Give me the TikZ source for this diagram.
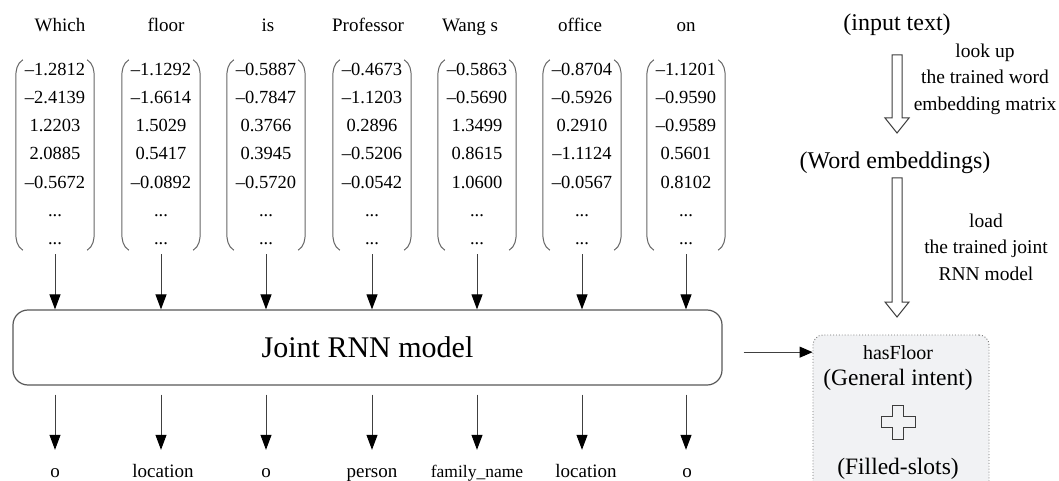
\documentclass[tikz,border=0pt]{standalone}
\usepackage{fontspec}
\setmainfont{Liberation Serif}
\usetikzlibrary{arrows.meta,calc}
\definecolor{resfill}{RGB}{241,242,244}
\definecolor{inkgray}{RGB}{60,60,60}
\newcommand\blockarr[3]{%
  \draw[blk] (#1-5,#2) -- (#1+5,#2) -- (#1+5,#3-15) -- (#1+12,#3-15) -- (#1,#3)
    -- (#1-12,#3-15) -- (#1-5,#3-15) -- cycle;}
\begin{document}
\begin{tikzpicture}[x=1pt,y=-1pt,
  word/.style={font=\fontsize{19}{19}\selectfont, anchor=base, inner sep=0pt},
  num/.style={font=\fontsize{18.5}{18.5}\selectfont, anchor=base, inner sep=0pt},
  vecbox/.style={minimum width=78pt, minimum height=190pt, inner sep=0pt},
  paren/.style={draw=black!60, line width=1pt},
  arr/.style={draw=black!75, line width=1pt, -{Triangle[width=11pt,length=15pt,fill=black,color=black]}},
  sidearr/.style={draw=black!75, line width=1pt, -{Triangle[width=11pt,length=13pt,fill=black,color=black]}},
  blk/.style={draw=inkgray, line width=1pt, line join=miter},
  note/.style={font=\fontsize{19.5}{26.5}\selectfont, align=center, anchor=north, inner sep=0pt},
  stage/.style={font=\fontsize{24}{24}\selectfont, anchor=base, inner sep=0pt},
  restext/.style={font=\fontsize{23.5}{23.5}\selectfont, anchor=base, inner sep=0pt}]
\clip (0,0) rectangle (1059,481);
\fill[white] (0,0) rectangle (1059,481);

% the joint model
\node[draw=black!65, line width=1.2pt, rounded corners=15pt, minimum width=709pt,
      minimum height=75pt, font=\fontsize{30}{30}\selectfont] (rnn) at (367.5,347.5) {Joint RNN model};

% one column per input word: word, embedding vector, predicted slot
\foreach \i/\cx/\wx/\w/\na/\nb/\nc/\nd/\ne/\lx/\lab in {
  1/55/60/Which/–1.2812/–2.4139/1.2203/2.0885/–0.5672/55/o,
  2/161/166/floor/–1.1292/–1.6614/1.5029/0.5417/–0.0892/163/location,
  3/266/268/is/–0.5887/–0.7847/0.3766/0.3945/–0.5720/266/o,
  4/372/368/Professor/–0.4673/–1.1203/0.2896/–0.5206/–0.0542/372/person,
  5/477/470/{Wang s}/–0.5863/–0.5690/1.3499/0.8615/1.0600/477/{\fontsize{17.5}{17.5}\selectfont family\_name},
  6/582/580/office/–0.8704/–0.5926/0.2910/–1.1124/–0.0567/586/location,
  7/686/686/on/–1.1201/–0.9590/–0.9589/0.5601/0.8102/687/o}{
  \node[word] (w\i) at (\wx,32) {\w};
  \node[vecbox] (vec\i) at (\cx,155) {};
  \node[num] (n\i-1) at (\cx,76) {\na};
  \node[num] (n\i-2) at (\cx,104) {\nb};
  \node[num] (n\i-3) at (\cx,132) {\nc};
  \node[num] (n\i-4) at (\cx,160) {\nd};
  \node[num] (n\i-5) at (\cx,188) {\ne};
  \node[num] (n\i-6) at (\cx,216) {...};
  \node[num] (n\i-7) at (\cx,244) {...};
  % parentheses of the vector
  \draw[paren] ($(vec\i.north west)+(7,0)$) .. controls ($(vec\i.north west)+(1,4)$) and ($(vec\i.north west)+(0,10)$) .. ($(vec\i.north west)+(0,18)$)
     -- ($(vec\i.south west)+(0,-18)$) .. controls ($(vec\i.south west)+(0,-10)$) and ($(vec\i.south west)+(1,-4)$) .. ($(vec\i.south west)+(7,0)$);
  \draw[paren] ($(vec\i.north east)+(-7,0)$) .. controls ($(vec\i.north east)+(-1,4)$) and ($(vec\i.north east)+(0,10)$) .. ($(vec\i.north east)+(0,18)$)
     -- ($(vec\i.south east)+(0,-18)$) .. controls ($(vec\i.south east)+(0,-10)$) and ($(vec\i.south east)+(-1,-4)$) .. ($(vec\i.south east)+(-7,0)$);
  \node[word, text height=13pt, text depth=4pt] (lab\i) at (\lx,477) {\lab};
  \draw[arr, shorten <=4pt] (vec\i.south) -- (vec\i.south |- rnn.north);
  \draw[arr, shorten <=9pt, shorten >=14pt] (rnn.south -| vec\i.south) -- (vec\i.south |- lab\i.north);
}

% pipeline on the right
\node[stage] (intext) at (897,31) {(input text)};
\node[stage] (wemb) at (895,169) {(Word embeddings)};
\blockarr{897}{55}{133}
\blockarr{897}{178}{317}
\node[note] (lookup) at (985,43.5) {look up\\the trained word\\embedding matrix};
\node[note] (load) at (986,213.5) {load\\the trained joint\\RNN model};

% result box
\node[draw=black!55, dotted, line width=0.9pt, fill=resfill, rounded corners=10pt,
      minimum width=176pt, minimum height=190pt, inner sep=0pt] (res) at (901,430) {};
\node[font=\fontsize{20}{20}\selectfont, anchor=base, inner sep=0pt] (hasfloor) at (898,359) {hasFloor};
\node[restext] (intent) at (898,385) {(General intent)};
\node[restext] (slots) at (898,474) {(Filled-slots)};
\draw[blk, line width=0.9pt] (892.5,405) -- (903.5,405) -- (903.5,416.5) -- (915,416.5) -- (915,427.5)
  -- (903.5,427.5) -- (903.5,439) -- (892.5,439) -- (892.5,427.5) -- (881,427.5) -- (881,416.5)
  -- (892.5,416.5) -- cycle;
\draw[sidearr, shorten <=21pt] (rnn.east |- hasfloor) -- (res.west |- hasfloor);
\end{tikzpicture}
\end{document}
